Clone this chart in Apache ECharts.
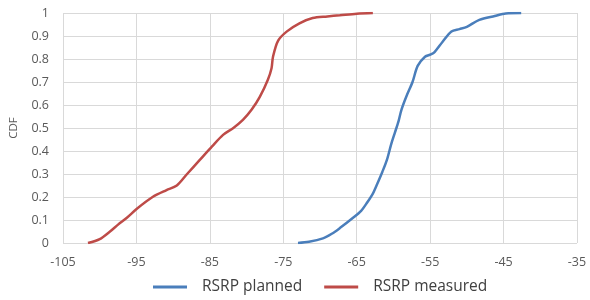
<!DOCTYPE html>
<html><head><meta charset="utf-8">
<script src="https://cdn.jsdelivr.net/npm/echarts@6/dist/echarts.min.js"></script>
<style>html,body{margin:0;padding:0;background:#fff}#c{width:590px;height:300px}</style>
</head><body><div id="c"></div>
<script>
const xTicks = [-105,-95,-85,-75,-65,-55,-45,-35];
const yTicks = [0,0.1,0.2,0.3,0.4,0.5,0.6,0.7,0.8,0.9,1];
const seriesNames = ['RSRP planned','RSRP measured'];
const plannedX = [-73.0,-71.5,-69.6,-68.4,-67.3,-65.5,-64.4,-63.6,-62.8,-62.3,-61.5,-60.9,-60.3,-59.8,-59.3,-58.9,-58.2,-57.4,-56.7,-55.7,-54.9,-54.4,-53.3,-52.1,-51.0,-50.0,-48.3,-46.2,-44.7,-42.6];
const plannedY = [0,0.005,0.02,0.04,0.065,0.11,0.14,0.175,0.215,0.25,0.31,0.36,0.43,0.48,0.53,0.58,0.64,0.70,0.77,0.81,0.82,0.83,0.875,0.92,0.93,0.94,0.97,0.987,0.998,1.0];
const measuredX = [-101.6,-100.0,-98.6,-97.5,-96.3,-94.9,-92.8,-90.9,-89.5,-88.1,-86.4,-84.7,-83.2,-81.8,-80.5,-79.3,-78.2,-77.1,-76.6,-76.4,-75.7,-74.5,-72.8,-71.0,-69.0,-67.3,-65.0,-62.8];
const measuredY = [0,0.017,0.05,0.08,0.11,0.15,0.2,0.23,0.25,0.30,0.36,0.42,0.47,0.50,0.535,0.58,0.635,0.71,0.76,0.81,0.88,0.92,0.955,0.978,0.985,0.99,0.997,1.0];
const zip = (a,b)=>a.map((v,i)=>[v,b[i]]);
const chart = echarts.init(document.getElementById('c'));
const labelStyle = {color:'#595959', fontSize:12.5, fontFamily:'Open Sans'};
chart.setOption({
  animation:false,
  grid:{left:63, right:13, top:13, bottom:57},
  legend:{bottom:0, left:148, itemWidth:34, itemHeight:3, itemGap:22,
    icon:'rect', data:seriesNames,
    textStyle:{color:'#404040', fontSize:15.5, fontFamily:'Open Sans', padding:[0,0,0,10]}},
  xAxis:{type:'value', min:-105, max:-35, interval:10,
    axisLine:{show:false}, axisTick:{show:false},
    axisLabel:Object.assign({margin:13}, labelStyle),
    splitLine:{show:true, lineStyle:{color:'#d9d9d9', width:1}}},
  yAxis:{type:'value', min:0, max:1, interval:0.1, name:'CDF', nameLocation:'middle', nameGap:43,
    nameTextStyle:{color:'#595959', fontSize:11.5, fontFamily:'Open Sans'},
    axisLine:{show:false}, axisTick:{show:false},
    axisLabel:Object.assign({margin:14, formatter:v=>String(Math.round(v*10)/10)}, labelStyle),
    splitLine:{show:true, lineStyle:{color:'#d9d9d9', width:1}}},
  series:[
    {name:seriesNames[0], type:'line', showSymbol:false, smooth:0.3, data:zip(plannedX,plannedY),
     lineStyle:{color:'#4a7ebb', width:2.5}, itemStyle:{color:'#4a7ebb'}},
    {name:seriesNames[1], type:'line', showSymbol:false, smooth:0.3, data:zip(measuredX,measuredY),
     lineStyle:{color:'#be4b48', width:2.5}, itemStyle:{color:'#be4b48'}}
  ]
});
</script></body></html>
